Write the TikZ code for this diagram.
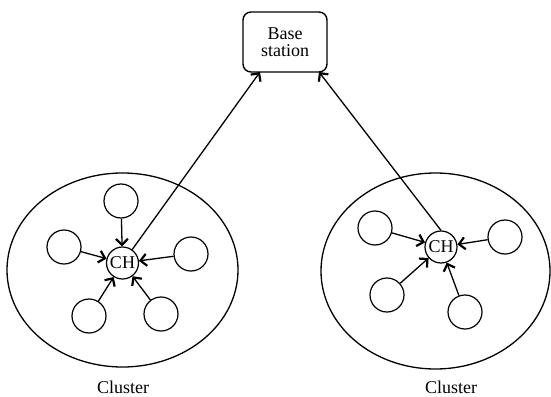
\documentclass[tikz,border=0pt]{standalone}
\usepackage{fontspec}
\setmainfont{Liberation Serif}
\usetikzlibrary{shapes.geometric,arrows.meta}
\begin{document}
\begin{tikzpicture}[x=1pt,y=-1pt,
  every node/.style={font=\fontsize{18}{20}\selectfont},
  sensor/.style={draw,circle,line width=1.2pt,minimum size=34pt,inner sep=0pt},
  head/.style={draw,circle,line width=1.2pt,minimum size=32pt,inner sep=0pt},
  clus/.style={draw,ellipse,line width=1.3pt,inner sep=0pt},
  arr/.style={line width=1.3pt,-{Straight Barb[length=6pt,width=12pt,line width=2.2pt]}},
  bsbox/.style={draw,rounded corners=8pt,line width=1.4pt,minimum width=84pt,minimum height=60pt,align=center,inner sep=2pt}]
\useasboundingbox (0,0) rectangle (551,396);
% clusters
\node[clus,minimum width=231pt,minimum height=194pt] (elL) at (122.5,270) {};
\node[clus,minimum width=229pt,minimum height=196pt] (elR) at (435.5,271) {};
% base station
\node[bsbox] (bs) at (285,42) {Base\\[-3pt]station};
\coordinate (bsL) at (260,72);
\coordinate (bsR) at (319,72);
% left cluster
\node[head] (chL) at (122.5,263) {CH};
\node[sensor] (l1) at (121,201) {};
\node[sensor] (l2) at (64,247) {};
\node[sensor] (l3) at (191,254) {};
\node[sensor] (l4) at (89,316) {};
\node[sensor] (l5) at (161,314) {};
\foreach \s in {l1,l2,l3,l4,l5} \draw[arr] (\s) -- (chL);
% right cluster
\node[head] (chR) at (441,247) {CH};
\node[sensor] (r1) at (375,228) {};
\node[sensor] (r2) at (505,237) {};
\node[sensor] (r3) at (387,295) {};
\node[sensor] (r4) at (465,312) {};
\foreach \s in {r1,r2,r3,r4} \draw[arr] (\s) -- (chR);
% uplinks
\draw[arr] (chL) -- (bsL);
\draw[arr] (chR.north) -- (bsR);
% labels
\node (labL) at (123,387) {Cluster};
\node (labR) at (451,387) {Cluster};
\end{tikzpicture}
\end{document}
